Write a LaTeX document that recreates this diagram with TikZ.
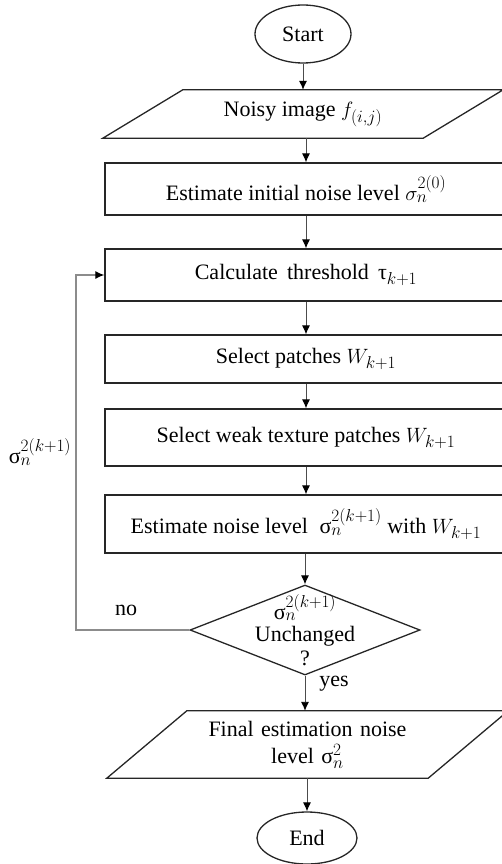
\documentclass[tikz,border=0pt]{standalone}
\usepackage{fontspec}
\setmainfont{Liberation Serif}
\DeclareMathSizes{22}{22}{16}{12}
\usetikzlibrary{shapes.geometric,arrows.meta,calc}
\begin{document}
\begin{tikzpicture}[x=1pt,y=-1pt,
  every node/.style={font=\fontsize{22}{26}\selectfont},
  boxline/.style={draw=black!85,line width=1.3pt},
  procbox/.style={boxline,rectangle,minimum width=402pt,inner sep=0pt},
  iobox/.style={rectangle,inner sep=0pt,align=center},
  term/.style={boxline,ellipse,minimum width=96pt,minimum height=58pt,inner sep=0pt},
  conn/.style={draw=black!70,line width=0.9pt,-{Latex[length=9pt,width=8pt,color=black]}},
  loopline/.style={draw=black!45,line width=1.2pt,-{Latex[length=9pt,width=8pt,color=black]}},
  lbl/.style={inner sep=0pt}
]
\useasboundingbox (0,0) rectangle (502,864);
\clip (0,0) rectangle (502,864);
% terminals
\node[term] (start) at (303,34) {Start};
\node[term,minimum width=100pt,minimum height=52pt] (end) at (307,838) {End};
% input parallelogram
\node[iobox,minimum width=400pt,minimum height=48pt] (noisy) at (303,114) {Noisy image $f_{(i,j)}$};
\draw[boxline] (noisy.south west) -- ($(noisy.north west)+(80,0)$) -- (noisy.north east) -- ($(noisy.south east)+(-80,0)$) -- cycle;
% process boxes
\node[procbox,minimum height=52pt] (init) at (306,189) {Estimate initial noise level $\sigma_n^{2(0)}$};
\node[procbox,minimum height=52pt] (calc) at (306,275) {Calculate\, threshold\, τ$_{k+1}$};
\node[procbox,minimum height=48pt] (sel) at (306,359) {Select patches $W_{k+1}$};
\node[procbox,minimum height=57pt] (weak) at (306,437.5) {Select weak texture patches $W_{k+1}$};
\node[procbox,minimum height=58pt] (est) at (306,524) {Estimate noise level\; σ$_n^{2(k+1)}$ with $W_{k+1}$};
% decision
\node[boxline,diamond,minimum width=230pt,minimum height=90pt,inner sep=0pt] (dec) at (305,630) {};
\node[align=center,inner sep=0pt,font=\fontsize{22}{24}\selectfont] (dect) at (305,630) {σ$_n^{2(k+1)}$\\[-2pt]Unchanged\\?};
% output parallelogram
\node[iobox,minimum width=401pt,minimum height=67pt,text width=300pt] (final) at (307.5,744.5) {Final estimation noise\\[1pt]level σ$_n^2$};
\draw[boxline] (final.south west) -- ($(final.north west)+(80,0)$) -- (final.north east) -- ($(final.south east)+(-80,0)$) -- cycle;
% connectors
\draw[conn] (start) -- (start|-noisy.north);
\draw[conn] (noisy.south-|init.north) -- (init.north);
\draw[conn] (init) -- (calc);
\draw[conn] (calc) -- (sel);
\draw[conn] (sel) -- (weak);
\draw[conn] (weak) -- (est);
\draw[conn] (est.south-|dec.north) -- (dec.north);
\draw[conn] (dec.south) -- (dec.south|-final.north);
\draw[conn] (final.south-|end.north) -- (end.north);
\coordinate (lp) at (76,630);
\draw[loopline] (dec.west) -- (lp) |- (calc.west);
% labels
\node[lbl] (no) at (126,610) {no};
\node[lbl] (yes) at (334,684) {yes};
\node[lbl] (sig) at (40,452) {σ$_n^{2(k+1)}$};
\end{tikzpicture}
\end{document}
